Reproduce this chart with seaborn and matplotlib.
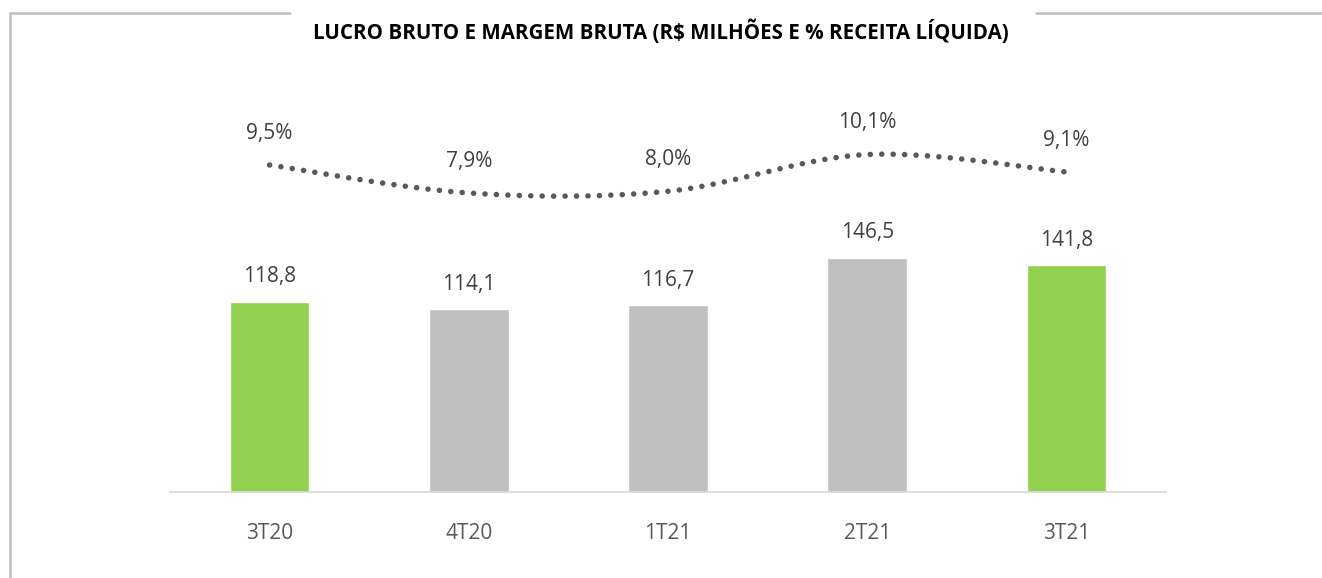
import numpy as np
import pandas as pd
import seaborn as sns
import matplotlib.pyplot as plt
from matplotlib.lines import Line2D

# chart data
quarters = ['3T20', '4T20', '1T21', '2T21', '3T21']
gross_profit = [118.8, 114.1, 116.7, 146.5, 141.8]
gross_margin = [9.5, 7.9, 8.0, 10.1, 9.1]
highlight = ['sim', 'nao', 'nao', 'nao', 'sim']

df = pd.DataFrame({'quarter': quarters, 'profit': gross_profit,
                   'margin': gross_margin, 'highlight': highlight})

sns.set_style('white')
plt.rcParams['font.family'] = ['Open Sans', 'DejaVu Sans']

W, H = 1322, 578
fig = plt.figure(figsize=(W / 100, H / 100), dpi=100)

# axes placed in pixel terms
left, right, bottom, top = 170, 1166, 492, 100
ax = fig.add_axes([left / W, 1 - bottom / H, (right - left) / W, (bottom - top) / H])

sns.barplot(data=df, x='quarter', y='profit', hue='highlight',
            palette={'sim': '#92D050', 'nao': '#BFBFBF'}, width=0.4,
            dodge=False, legend=False, saturation=1, ax=ax)
ax.set_ylim(0, (bottom - top) / 1.6)
ax.set_xlim(-0.5, len(quarters) - 0.5)
for i, v in enumerate(gross_profit):
    ax.annotate(f'{v:.1f}'.replace('.', ','), (i, v), xytext=(0, 18),
                textcoords='offset points', ha='center', va='center',
                fontsize=15, color='#404040')

ax.set_xlabel('')
ax.set_ylabel('')
ax.set_yticks([])
ax.tick_params(axis='x', length=0, pad=22, labelsize=15, labelcolor='#595959')
for s in ['top', 'right', 'left']:
    ax.spines[s].set_visible(False)
ax.spines['bottom'].set_color('#D9D9D9')
ax.spines['bottom'].set_linewidth(1.2)

# margin line on a second scale, smoothed like excel
ax2 = ax.twinx()
ax2.set_ylim(9.5 - (bottom - 165) / 17.5, 9.5 + (165 - top) / 17.5)
ax2.axis('off')

xs = np.arange(len(gross_margin), dtype=float)
ys = np.array(gross_margin)
px = np.concatenate([[xs[0]], xs, [xs[-1]]])
py = np.concatenate([[ys[0]], ys, [ys[-1]]])
cx, cy = [], []
t = np.linspace(0, 1, 40)
for k in range(1, len(px) - 2):
    p0, p1, p2, p3 = [np.array([px[j], py[j]]) for j in range(k - 1, k + 3)]
    c1 = p1 + (p2 - p0) / 6
    c2 = p2 - (p3 - p1) / 6
    seg = ((1 - t) ** 3)[:, None] * p1 + (3 * (1 - t) ** 2 * t)[:, None] * c1 \
        + (3 * (1 - t) * t ** 2)[:, None] * c2 + (t ** 3)[:, None] * p2
    cx.extend(seg[:, 0])
    cy.extend(seg[:, 1])
ax2.plot(cx, cy, color='#595959', linewidth=4.0, linestyle=(0, (0.01, 2.05)),
         dash_capstyle='round')
for i, v in enumerate(gross_margin):
    ax2.annotate(f'{v:.1f}'.replace('.', ',') + '%', (i, v), xytext=(0, 23),
                 textcoords='offset points', ha='center', va='center',
                 fontsize=15, color='#404040')

# title and frame
fig.text(0.5, 1 - 32 / H, 'LUCRO BRUTO E MARGEM BRUTA (R$ MILHÕES E % RECEITA LÍQUIDA)',
         ha='center', va='center', fontsize=14.8, fontweight='bold', color='black')
fc = '#BFBFBF'
fig.add_artist(Line2D([10 / W, 10 / W], [0, 1 - 13 / H], color=fc, lw=1.8))
fig.add_artist(Line2D([10 / W, 290 / W], [1 - 13 / H, 1 - 13 / H], color=fc, lw=1.8))
fig.add_artist(Line2D([1036 / W, 1], [1 - 13 / H, 1 - 13 / H], color=fc, lw=1.8))

fig.savefig('out.png', dpi=100)
